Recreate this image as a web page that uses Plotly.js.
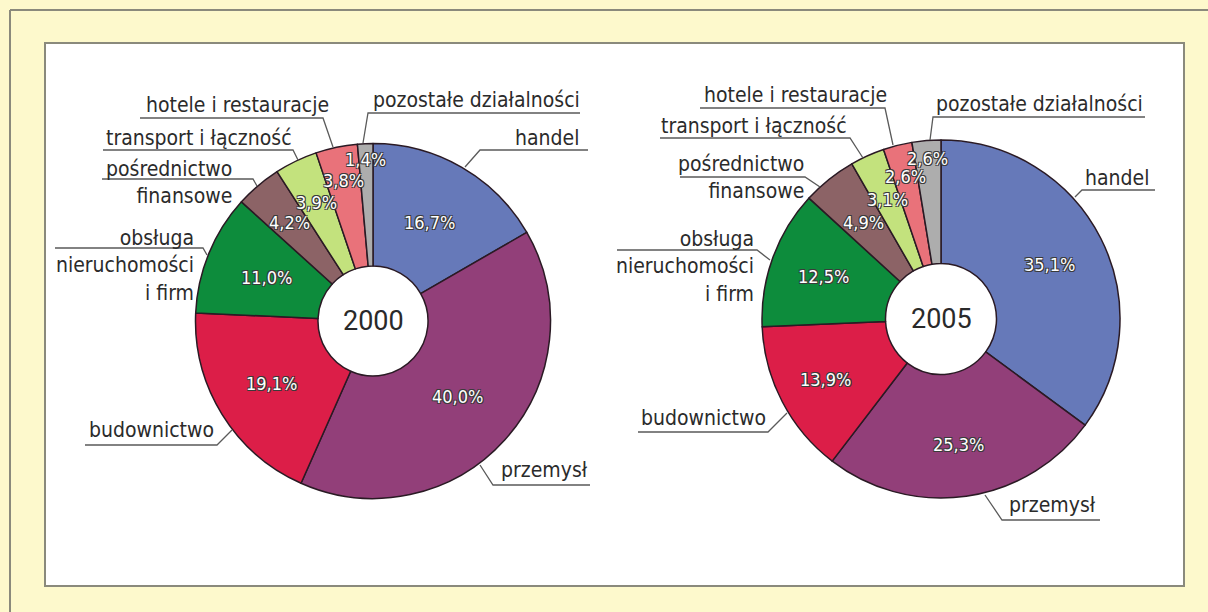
<!DOCTYPE html>
<html>
<head>
<meta charset="utf-8">
<script src="https://cdn.plot.ly/plotly-3.0.1.min.js"></script>
<style>html,body{margin:0;padding:0;background:#fdf9cc;}#chart{width:1208px;height:612px;}</style>
</head>
<body>
<div id="chart"></div>
<script>
// ---- data ----
const categories = ['handel','przemysł','budownictwo','obsługa nieruchomości i firm','pośrednictwo finansowe','transport i łączność','hotele i restauracje','pozostałe działalności'];
const labelTexts = ['handel','przemysł','budownictwo','obsługa<br>nieruchomości<br>i firm','pośrednictwo<br>finansowe','transport i łączność','hotele i restauracje','pozostałe działalności'];
const years = ['2000','2005'];
const values2000 = [16.7, 40.0, 19.1, 11.0, 4.2, 3.9, 3.8, 1.4];
const values2005 = [35.1, 25.3, 13.9, 12.5, 4.9, 3.1, 2.6, 2.6];

// ---- style ----
const colors = ['#6679b9','#923f79','#dc1e48','#0d8c3c','#8c6366','#c3e27d','#e9727a','#adadad'];
const W = 1208, H = 612;
const X = p => p / W, Y = p => 1 - p / H;
const FONT = "'Liberation Sans Narrow','DejaVu Sans Condensed','Roboto Condensed','Arial Narrow','Liberation Sans',sans-serif";
const pies = [
  {cx: 373, cy: 321, r: 177.5, rf: [0.64,0.64,0.67,0.65,0.73,0.74,0.81,0.91],
   lab: [
     {xa:'right', x:581, y:138, line:[[588,150],[480,150],[465,167]]},
     {xa:'left', x:499, y:470, line:[[590,485],[493,485],[480,465]]},
     {xa:'left', x:87, y:430, line:[[85,445],[217,445],[232,430]]},
     {xa:'right', x:196, y:265, line:[[55,248],[203,248],[207,255]]},
     {xa:'right', x:234, y:182, line:[[102,179],[253,179],[257,186]]},
     {xa:'left', x:104, y:138, line:[[103,150],[293,150],[298,160]]},
     {xa:'left', x:144, y:105, line:[[140,118],[323,118],[333,147]]},
     {xa:'left', x:371, y:100, line:[[580,113],[368,113],[363,143]]}
   ]},
  {cx: 941, cy: 319, r: 179, rf: [0.68,0.71,0.73,0.70,0.69,0.73,0.82,0.90],
   lab: [
     {xa:'right', x:1151, y:178, line:[[1155,190],[1082,190],[1075,197]]},
     {xa:'left', x:1007, y:505, line:[[1100,520],[1002,520],[985,495]]},
     {xa:'left', x:639, y:418, line:[[638,432],[768,432],[787,413]]},
     {xa:'right', x:756, y:266, line:[[617,250],[757,250],[770,260]]},
     {xa:'right', x:806, y:177, line:[[680,177],[805,177],[820,187]]},
     {xa:'left', x:659, y:126, line:[[660,138],[850,138],[863,158]]},
     {xa:'left', x:702, y:95, line:[[700,108],[885,108],[893,145]]},
     {xa:'left', x:934, y:104, line:[[1145,117],[933,117],[930,140]]}
   ]}
];
const seriesValues = [values2000, values2005];

const traces = [];
const annotations = [];
const shapes = [
  {type:'rect', xref:'paper', yref:'paper', x0:X(45), x1:X(1184), y0:Y(43), y1:Y(586), fillcolor:'#ffffff', line:{color:'#8a8a7c', width:2}, layer:'below'},
  {type:'line', xref:'paper', yref:'paper', x0:X(10), x1:X(1208), y0:Y(10), y1:Y(10), line:{color:'#8a8a7c', width:2}, layer:'below'},
  {type:'line', xref:'paper', yref:'paper', x0:X(10), x1:X(10), y0:Y(10), y1:Y(612), line:{color:'#8a8a7c', width:2}, layer:'below'}
];

seriesValues.forEach((vals, i) => {
  const p = pies[i];
  traces.push({
    type:'pie', values: vals, labels: categories, sort:false, direction:'clockwise', rotation:0,
    hole: 0.31, textinfo:'none', hoverinfo:'label+percent', showlegend:false,
    marker:{colors: colors, line:{color:'#2a1a24', width:1.5}},
    domain:{x:[X(p.cx - p.r), X(p.cx + p.r)], y:[Y(p.cy + p.r), Y(p.cy - p.r)]}
  });
  // year in the hole
  annotations.push({xref:'paper', yref:'paper', x:X(p.cx), y:Y(p.cy), text: years[i], showarrow:false,
    xanchor:'center', yanchor:'middle', font:{family:"Roboto, 'Liberation Sans', sans-serif", size:27, color:'#2a2a2a'}});
  // percent labels at slice mid-angles
  const total = vals.reduce((a,b)=>a+b,0);
  let cum = 0;
  vals.forEach((v, k) => {
    const mid = (cum + v/2) / total * 2 * Math.PI;
    cum += v;
    const rr = p.r * p.rf[k];
    const px = p.cx + rr * Math.sin(mid), py = p.cy - rr * Math.cos(mid);
    annotations.push({xref:'paper', yref:'paper', x:X(px), y:Y(py), showarrow:false, xanchor:'center', yanchor:'middle',
      text: v.toFixed(1).replace('.', ',') + '%',
      font:{family:FONT, size:18, color:'#ffffff', shadow:'-1px -1px 0 #3a3a3a, 1px -1px 0 #3a3a3a, -1px 1px 0 #3a3a3a, 1px 1px 0 #3a3a3a'}});
  });
  // outside labels with leader lines
  p.lab.forEach((L, k) => {
    annotations.push({xref:'paper', yref:'paper', x:X(L.x), y:Y(L.y), text: labelTexts[k], showarrow:false,
      xanchor:L.xa, yanchor:'middle', align:L.xa, font:{family:FONT, size:21, color:'#2b2b2b'}});
    const d = L.line.map((pt, j) => (j ? 'L' : 'M') + X(pt[0]) + ',' + Y(pt[1])).join(' ');
    shapes.push({type:'path', xref:'paper', yref:'paper', path:d, line:{color:'#5a5a5a', width:1.3}});
  });
});

const layout = {
  width: W, height: H, margin:{l:0, r:0, t:0, b:0},
  paper_bgcolor:'#fdf9cc', plot_bgcolor:'rgba(0,0,0,0)',
  shapes: shapes, annotations: annotations, showlegend:false
};
Plotly.newPlot('chart', traces, layout, {displayModeBar:false, staticPlot:true});
</script>
</body>
</html>
